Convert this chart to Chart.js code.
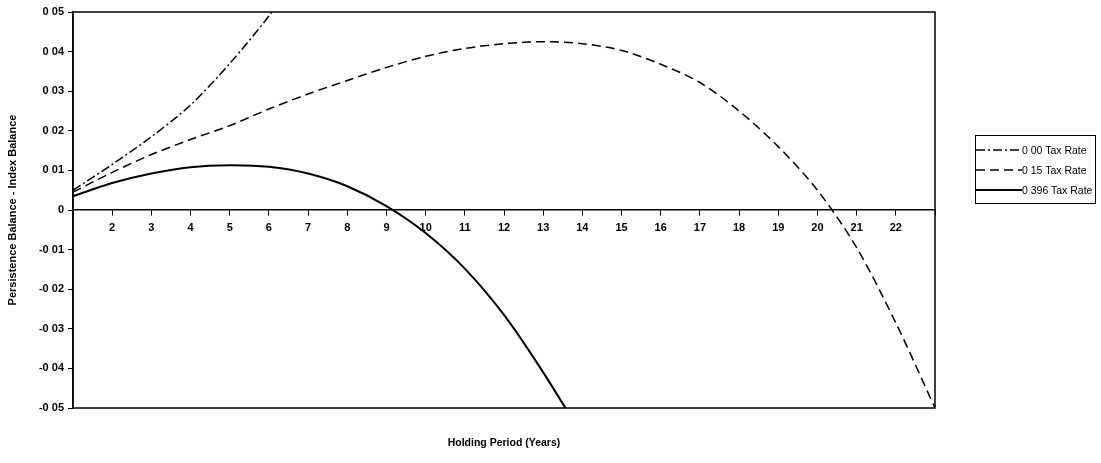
<!DOCTYPE html>
<html><head><meta charset="utf-8">
<script src="https://cdn.jsdelivr.net/npm/chart.js@4/dist/chart.umd.min.js"></script>
<style>
body{margin:0;background:#fff;font-family:"Liberation Sans",Arial,sans-serif;}
#wrap{position:relative;width:1101px;height:463px;}
#legend{position:absolute;left:975px;top:135px;width:121px;height:69px;border:1px solid #000;font-size:10.5px;box-sizing:border-box;padding-top:4px;}
#legend div{height:20px;display:flex;align-items:center;}
#xt{position:absolute;left:73px;width:862px;top:436px;text-align:center;font-size:10.5px;font-weight:bold;}
</style></head><body>
<div id="wrap"><canvas id="c" width="1101" height="463"></canvas>
<div id="xt">Holding Period (Years)</div>
<div id="legend">
<div><svg width="46" height="6"><line x1="0" y1="3" x2="46" y2="3" stroke="#000" stroke-width="1.5" stroke-dasharray="9,3,2,3"/></svg>0 00 Tax Rate</div>
<div><svg width="46" height="6"><line x1="0" y1="3" x2="46" y2="3" stroke="#000" stroke-width="1.5" stroke-dasharray="9,5"/></svg>0 15 Tax Rate</div>
<div><svg width="46" height="6"><line x1="0" y1="3" x2="46" y2="3" stroke="#000" stroke-width="2"/></svg>0 396 Tax Rate</div>
</div></div>
<script>
const years=[1,2,3,4,5,6,7,8,9,10,11,12,13,14,15,16,17,18,19,20,21,22,23];
const rate000=[0.005,0.0115,0.0185,0.0265,0.037,0.049,0.063];
const rate015=[0.0045,0.0095,0.014,0.0178,0.0213,0.0255,0.0293,0.0327,0.036,0.0388,0.0408,0.042,0.0425,0.042,0.0403,0.0368,0.0322,0.025,0.016,0.005,-0.0095,-0.0285,-0.05];
const rate0396=[0.0035,0.0068,0.0092,0.0108,0.0113,0.0109,0.0092,0.006,0.001,-0.0058,-0.0148,-0.0265,-0.041,-0.057];
const yTicks=[0.05,0.04,0.03,0.02,0.01,0,-0.01,-0.02,-0.03,-0.04,-0.05];
const pts=a=>a.map((v,i)=>({x:years[i],y:v}));
const frame={id:'frame',afterDraw(c){const a=c.chartArea,x=c.ctx;x.save();x.strokeStyle='#000';x.lineWidth=1.5;x.strokeRect(a.left,a.top,a.right-a.left,a.bottom-a.top);x.restore();}};
const f={family:'"Liberation Sans",Arial,sans-serif',size:11,weight:'bold'};
new Chart(document.getElementById('c'),{type:'line',
data:{datasets:[
{data:pts(rate000),borderColor:'#000',borderWidth:1.5,borderDash:[9,3,2,3],pointRadius:0,tension:0.3},
{data:pts(rate015),borderColor:'#000',borderWidth:1.5,borderDash:[9,5],pointRadius:0,tension:0.3},
{data:pts(rate0396),borderColor:'#000',borderWidth:2,pointRadius:0,tension:0.3}]},
options:{responsive:false,animation:false,plugins:{legend:{display:false},tooltip:{enabled:false}},
layout:{padding:{top:12,right:166,bottom:55,left:4}},
scales:{
x:{type:'linear',min:1,max:23,position:{y:0},
 afterBuildTicks(s){s.ticks=years.map(v=>({value:v}));},
 ticks:{color:'#000',font:f,padding:6,maxRotation:0,autoSkip:false,callback:v=>(v===1||v===23)?'':String(v)},
 grid:{drawOnChartArea:false,color:'#000',tickLength:5},border:{color:'#000',width:1.5}},
y:{min:-0.05,max:0.05,
 afterFit(s){s.width=69;},
 afterBuildTicks(s){s.ticks=yTicks.map(v=>({value:v}));},
 ticks:{color:'#000',font:f,padding:4,callback:v=>{const r=Math.round(v*100)/100;return r===0?'0':r.toFixed(2).replace('.',' ');}},
 grid:{drawOnChartArea:false,color:'#000',tickLength:5},border:{color:'#000',width:1.5},
 title:{display:true,text:'Persistence Balance - Index Balance',color:'#000',font:f,padding:2}}
}},plugins:[frame]});
</script></body></html>
